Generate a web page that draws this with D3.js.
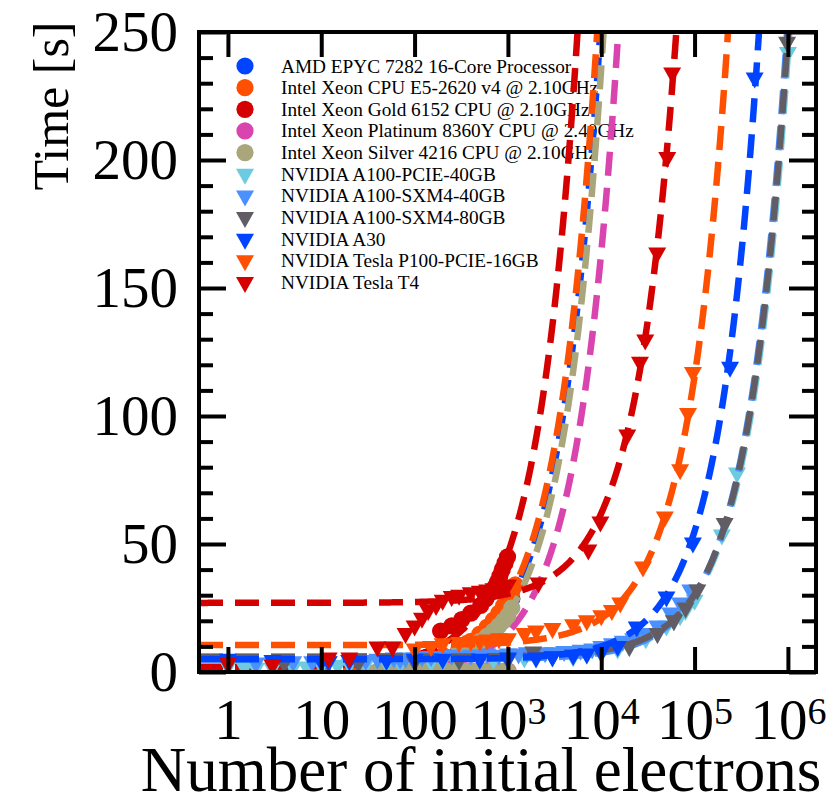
<!DOCTYPE html>
<html><head><meta charset="utf-8">
<script src="https://cdn.jsdelivr.net/npm/d3@7"></script>
<style>body{margin:0;background:#fff}svg{display:block}</style>
</head><body>
<svg id="c" width="839" height="804"></svg>
<script>
// ---------------- data ----------------
const seriesNames = [
  "AMD EPYC 7282 16-Core Processor",
  "Intel Xeon CPU E5-2620 v4 @ 2.10GHz",
  "Intel Xeon Gold 6152 CPU @ 2.10GHz",
  "Intel Xeon Platinum 8360Y CPU @ 2.40GHz",
  "Intel Xeon Silver 4216 CPU @ 2.10GHz",
  "NVIDIA A100-PCIE-40GB",
  "NVIDIA A100-SXM4-40GB",
  "NVIDIA A100-SXM4-80GB",
  "NVIDIA A30",
  "NVIDIA Tesla P100-PCIE-16GB",
  "NVIDIA Tesla T4"
];
const seriesColors = ["#0044ff","#ff4f00","#d50000","#da44ae","#a9a67c",
                      "#6ccbe0","#4b90ff","#625d64","#0044ff","#ff4f00","#d50000"];
const seriesMarkers = ["circle","circle","circle","circle","circle",
                       "triangle","triangle","triangle","triangle","triangle","triangle"];
// linear fit t = a + b*N, coefficients
const fitIntercept = [1, 1, 2, -1, -1, 6, 5, 6, 5, 10.5, 27];
const fitSlope     = [0.0255, 0.0275, 0.0445, 0.0165, 0.0237,
                      0.000236, 0.00025, 0.000243, 0.0005, 0.00105, 0.0035];

const amdN = [200, 300, 400, 500, 600, 700, 800, 900, 1000, 1100];
const amdT = [6, 8.5, 11, 13.5, 16, 18.5, 21, 23.5, 26, 28.5];

const e5N = [200, 300, 400, 500, 600, 700, 800, 900, 1000, 1100, 1200];
const e5T = [6.5, 9.3, 12, 14.8, 17.5, 20.3, 23, 25.8, 28.5, 31.3, 34];

const goldN = [190, 250, 320, 400, 510, 580, 650, 720, 770, 820, 870, 930, 990];
const goldT = [16, 18, 20.5, 23, 26, 28.5, 31, 33, 35, 37.5, 40, 42.5, 45];

const platN = [150, 240, 400, 600, 1000];
const platT = [0.5, 1, 0.5, 0.5, 0.5];

const silverN = [30, 40, 50, 65, 80, 100, 120, 150, 180, 220, 260, 300, 350, 400, 450, 500, 600, 700, 800, 900, 1000,
                 300, 400, 500, 600, 700, 800, 900, 1000, 1100];
const silverT = [0.3, 0.3, 0.4, 0.3, 0.4, 0.4, 0.3, 0.4, 0.3, 0.4, 0.3, 0.4, 0.3, 0.4, 0.3, 0.4, 0.3, 0.4, 0.3, 0.4, 0.3,
                 8, 10, 12, 14, 16, 18, 20, 22, 25];

const pcieN = [1, 1.5, 2, 3, 5, 7, 10, 15, 20, 30, 50, 70, 100, 150, 200, 300, 500, 700, 1000, 1500, 2000, 3000,
               5000, 7000, 10000, 15000, 20000, 30000, 40000, 50000, 60000, 70000, 80000, 100000, 196000, 285000, 1000000];
const pcieT = [2.2, 1.8, 1.5, 1.5, 1.8, 2, 2.5, 2.5, 3, 3, 3.5, 3.5, 4, 4, 4.5, 4.5, 5, 5, 5, 5.5, 6.5, 6,
               6, 7, 8, 9, 10, 13, 15, 18, 20, 22, 24, 28, 53.5, 77.7, 242];

const sxm40N = [1, 2, 3, 5, 8, 12, 20, 30, 40, 50, 60, 70, 80, 100, 120, 150, 200, 250, 300, 400, 500, 600, 800,
                1000, 1300, 1600, 2000, 2500, 3000, 4000, 5000, 6000, 8000, 10000, 13000, 17000, 22000, 30000,
                40000, 55000, 70000, 90000];
const sxm40T = [4, 3.5, 3.5, 4, 4, 4, 4.5, 4.5, 5, 5, 5.5, 5, 5.5, 5.5, 6, 6, 6, 6.5, 6, 6.5, 6.5, 7, 6.5,
                7, 7, 7.5, 7, 7.5, 7.5, 8, 8, 8.5, 9, 10, 11, 12, 13, 15,
                18, 23, 27, 32];

const sxm80N = [1, 4, 25, 100, 300, 1000, 1870, 3000, 5000, 10000, 20000, 40000, 60000, 80000, 107000, 210000, 980000];
const sxm80T = [3, 3.5, 3.5, 4, 4.5, 5, 7.8, 6, 6.5, 7.5, 10, 15, 20, 25, 32, 58, 246];

const a30N = [1, 3, 10, 12, 20, 50, 100, 200, 500, 1000, 2000, 3000, 5000, 7000, 10000, 15000, 24000, 50000, 96000, 240000, 440000];
const a30T = [5, 4.5, 4, 4, 4.5, 4.5, 5, 5, 5, 5.5, 5.5, 6, 6.5, 7, 8, 10, 17.6, 29.3, 50.4, 119, 232];

const p100N = [100, 150, 200, 300, 400, 500, 600, 800, 1000, 1500, 2000, 3000, 5000, 7000, 10000, 13000, 16000,
               28000, 48000, 70000, 85000, 96000];
const p100T = [9, 10, 11, 11.5, 12, 12, 12.5, 13, 13, 15, 16, 17, 18.5, 20, 22, 24, 27,
               41, 60.5, 79, 101, 117];

const t4N = [1, 3, 12, 20, 40, 58, 80, 100, 120, 140, 170, 200, 250, 300, 400, 500, 600, 700, 800, 900, 1000,
             2130, 7270, 9800, 19000, 26000, 29600, 39800, 51000, 57500];
const t4T = [3.5, 2.7, 5.5, 5.5, 9.8, 9.8, 15, 18, 21, 24, 26, 28, 29.5, 30, 31, 31.5, 32, 32.5, 33, 33.5, 34,
             34.8, 47.7, 58.6, 92.6, 121, 129.7, 163.7, 201, 234];

const seriesN = [amdN, e5N, goldN, platN, silverN, pcieN, sxm40N, sxm80N, a30N, p100N, t4N];
const seriesT = [amdT, e5T, goldT, platT, silverT, pcieT, sxm40T, sxm80T, a30T, p100T, t4T];

const xTickValues = [1, 10, 100, 1e3, 1e4, 1e5, 1e6];
const xTickBase   = ["1", "10", "100", "10", "10", "10", "10"];
const xTickExp    = ["", "", "", "3", "4", "5", "6"];
const yTickValues = [0, 50, 100, 150, 200, 250];
const yMinorTicks = [10, 20, 30, 40, 60, 70, 80, 90, 110, 120, 130, 140, 160, 170, 180, 190, 210, 220, 230, 240];
const xTitle = "Number of initial electrons";
const yTitle = "Time [s]";

// ---------------- layout ----------------
const L = 199, R = 816, T = 32, B = 672;
const FONT = "'Liberation Serif','Times New Roman',Times,serif";
const svg = d3.select("#c");
const x = d3.scaleLog().domain([0.49, 2.0e6]).range([L, R]);
const y = d3.scaleLinear().domain([0, 250]).range([B, T]);

svg.append("defs").append("clipPath").attr("id", "plotclip")
  .append("rect").attr("x", L).attr("y", T).attr("width", R - L).attr("height", B - T);

const triPath = "M-9,-5.5L9,-5.5L0,10.5Z";

function drawMarker(g, type, color, cx, cy) {
  if (type === "circle") {
    g.append("circle").attr("cx", cx).attr("cy", cy).attr("r", 8.6).attr("fill", color);
  } else {
    g.append("path").attr("d", triPath).attr("transform", `translate(${cx},${cy})`).attr("fill", color);
  }
}

// ---------------- legend (under data) ----------------
const leg = svg.append("g");
seriesNames.forEach((name, i) => {
  const cy = 66 + i * 21.65;
  drawMarker(leg, seriesMarkers[i], seriesColors[i], 245, cy);
  leg.append("text").attr("x", 281).attr("y", cy + 6.5)
    .attr("font-family", FONT).attr("font-size", 19.3).attr("fill", "#000").text(name);
});

// ---------------- data ----------------
const plot = svg.append("g").attr("clip-path", "url(#plotclip)");
const lx0 = Math.log10(0.49), lx1 = Math.log10(2.0e6);
const line = d3.line().x(d => x(d[0])).y(d => y(d[1]));

seriesNames.forEach((name, i) => {
  const a = fitIntercept[i], b = fitSlope[i];
  const pts = [];
  for (let k = 0; k <= 600; k++) {
    const n = Math.pow(10, lx0 + (lx1 - lx0) * k / 600);
    const t = a + b * n;
    pts.push([n, t]);
    if (t > 300) break;
  }
  plot.append("path").attr("d", line(pts)).attr("fill", "none")
    .attr("stroke", seriesColors[i]).attr("stroke-width", 6.5)
    .attr("stroke-dasharray", "24 12");
  const g = plot.append("g");
  seriesN[i].forEach((n, j) => drawMarker(g, seriesMarkers[i], seriesColors[i], x(n), y(seriesT[i][j])));
});

// ---------------- axes ----------------
function styleAxis(g) {
  g.select(".domain").remove();
  g.selectAll(".tick line").attr("stroke", "#000").attr("stroke-width", 4);
  g.selectAll(".tick text").attr("font-family", FONT).attr("fill", "#000");
}
const xb = svg.append("g").attr("transform", `translate(0,${B})`)
  .call(d3.axisBottom(x).tickValues(xTickValues).tickSize(-25).tickPadding(27).tickFormat(() => ""));
styleAxis(xb);
xb.selectAll(".tick text").attr("font-size", 57).each(function(d, i) {
  const t = d3.select(this);
  t.text(null);
  t.append("tspan").text(xTickBase[i]);
  if (xTickExp[i]) t.append("tspan").attr("dy", "-0.42em").attr("font-size", 38).text(xTickExp[i]);
});
const xt = svg.append("g").attr("transform", `translate(0,${T})`)
  .call(d3.axisTop(x).tickValues(xTickValues).tickSize(-25).tickFormat(() => ""));
styleAxis(xt);

const yl = svg.append("g").attr("transform", `translate(${L},0)`)
  .call(d3.axisLeft(y).tickValues(yTickValues).tickSize(-27).tickPadding(21).tickFormat(d3.format("d")));
styleAxis(yl);
yl.selectAll(".tick text").attr("font-size", 57);
const ylm = svg.append("g").attr("transform", `translate(${L},0)`)
  .call(d3.axisLeft(y).tickValues(yMinorTicks).tickSize(-14).tickFormat(() => ""));
styleAxis(ylm);
const yr = svg.append("g").attr("transform", `translate(${R},0)`)
  .call(d3.axisRight(y).tickValues(yTickValues).tickSize(-27).tickFormat(() => ""));
styleAxis(yr);
const yrm = svg.append("g").attr("transform", `translate(${R},0)`)
  .call(d3.axisRight(y).tickValues(yMinorTicks).tickSize(-14).tickFormat(() => ""));
styleAxis(yrm);

svg.append("rect").attr("x", L).attr("y", T).attr("width", R - L).attr("height", B - T)
  .attr("fill", "none").attr("stroke", "#000").attr("stroke-width", 4);

svg.append("text").attr("x", 481).attr("y", 791).attr("text-anchor", "middle")
  .attr("font-family", FONT).attr("font-size", 63).attr("fill", "#000").text(xTitle);
svg.append("text").attr("transform", "translate(68,106) rotate(-90)").attr("text-anchor", "middle")
  .attr("font-family", FONT).attr("font-size", 50).attr("fill", "#000").text(yTitle);
</script>
</body></html>
